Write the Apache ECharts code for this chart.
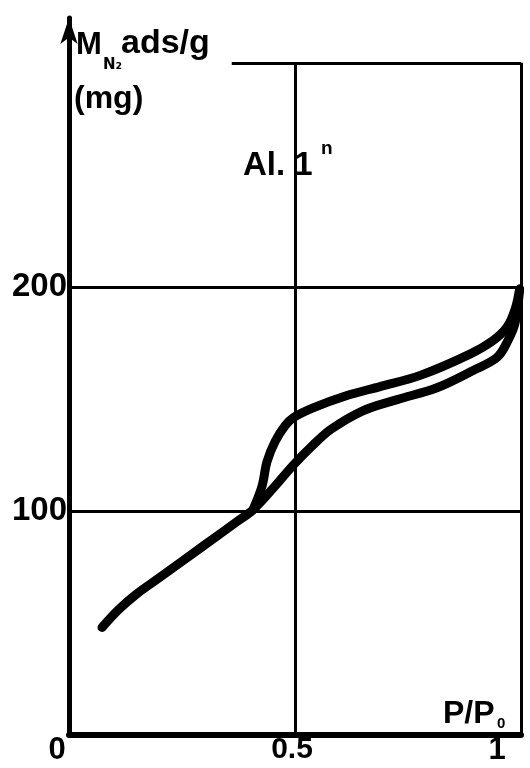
<!DOCTYPE html>
<html>
<head>
<meta charset="utf-8">
<script src="https://cdn.jsdelivr.net/npm/echarts@6/dist/echarts.min.js"></script>
<style>
html,body{margin:0;padding:0;background:#fff;}
#c{width:530px;height:768px;}
</style>
</head>
<body>
<div id="c"></div>
<script>
// ---- data ----
const xTickLabels = ['0', '0.5', '1'];
const yTickLabels = ['100', '200'];
// adsorption branch (lower), includes common low-pressure part
const adsX = [0.073, 0.11, 0.15, 0.2, 0.3, 0.37, 0.407, 0.451, 0.496, 0.54, 0.58, 0.65, 0.726, 0.814, 0.894, 0.947, 0.971, 0.987, 0.997];
const adsY = [48, 56, 63, 70.2, 84.8, 95, 100.5, 110, 120.4, 129.4, 136.5, 144.7, 149.7, 155, 162.7, 168.5, 176, 184, 199];
// desorption branch (upper)
const desX = [0.407, 0.427, 0.438, 0.456, 0.478, 0.496, 0.54, 0.615, 0.688, 0.777, 0.887, 0.938, 0.969, 0.987, 0.997];
const desY = [100.5, 111, 122, 131, 138, 141.6, 146, 151.5, 155.5, 160.5, 170, 176, 182, 190, 199];
// hand-drawn grid lines
const gridYValues = [100, 200];
const gridXValues = [0.5, 1];
const topLineY = 300;
const topLineStartX = 0.36;

const zip = (xs, ys) => xs.map((x, i) => [x, ys[i]]);
const BLACK = '#000';
const FONT = '"Liberation Sans", Arial, sans-serif';

const markData = [];
gridYValues.forEach(v => markData.push([{coord: [0, v]}, {coord: [1, v]}]));
gridXValues.forEach(v => markData.push([{coord: [v, 0]}, {coord: [v, topLineY]}]));
markData.push([{coord: [topLineStartX, topLineY]}, {coord: [1, topLineY]}]);

const chart = echarts.init(document.getElementById('c'));
chart.setOption({
  backgroundColor: '#fff',
  animation: false,
  grid: {left: 69, right: 9, top: 18, bottom: 33, containLabel: false},
  xAxis: {
    type: 'value', min: 0, max: 1, interval: 0.5,
    axisLine: {show: true, lineStyle: {color: BLACK, width: 6}},
    axisTick: {show: false},
    splitLine: {show: false},
    axisLabel: {
      margin: 0,
      formatter: function (v) {
        if (v === 0) return '{a|' + xTickLabels[0] + '}';
        if (v === 0.5) return '{b|' + xTickLabels[1] + '}';
        if (v === 1) return '{c|' + xTickLabels[2] + '}';
        return '';
      },
      rich: {
        a: {fontFamily: FONT, fontWeight: 'bold', fontSize: 31, color: BLACK, padding: [0, 24, 0, 0]},
        b: {fontFamily: FONT, fontWeight: 'bold', fontSize: 30, color: BLACK, padding: [0, 6, 0, 0]},
        c: {fontFamily: FONT, fontWeight: 'bold', fontSize: 31, color: BLACK, padding: [0, 48, 0, 0]}
      }
    }
  },
  yAxis: {
    type: 'value', min: 0, max: 320, interval: 100,
    axisLine: {show: true, symbol: ['none', 'arrow'], symbolSize: [13, 26], lineStyle: {color: BLACK, width: 5}},
    axisTick: {show: false},
    splitLine: {show: false},
    axisLabel: {
      margin: 2,
      fontFamily: FONT, fontWeight: 'bold', fontSize: 33, color: BLACK,
      formatter: function (v) {
        const s = String(v);
        return yTickLabels.indexOf(s) >= 0 ? s : '';
      }
    }
  },
  series: [
    {
      type: 'line', name: 'ads', data: zip(adsX, adsY), smooth: 0.35, showSymbol: false,
      lineStyle: {color: BLACK, width: 9, cap: 'round', join: 'round'}, z: 5,
      markLine: {
        silent: true, symbol: ['none', 'none'], label: {show: false},
        lineStyle: {color: BLACK, width: 3, type: 'solid'},
        data: markData, z: 2
      }
    },
    {
      type: 'line', name: 'des', data: zip(desX, desY), smooth: 0.35, showSymbol: false,
      lineStyle: {color: BLACK, width: 9, cap: 'round', join: 'round'}, z: 5
    }
  ],
  graphic: [
    {type: 'text', left: 76, top: 30, style: {text: 'M', font: 'bold 31px ' + FONT, fill: BLACK}},
    {type: 'text', left: 103, top: 58, style: {text: 'N₂', font: 'bold 15px "DejaVu Sans", sans-serif', fill: BLACK}},
    {type: 'text', left: 121, top: 27, style: {text: 'ads/g', font: 'bold 34px ' + FONT, fill: BLACK}},
    {type: 'text', left: 74, top: 83, style: {text: '(mg)', font: 'bold 32px ' + FONT, fill: BLACK}},
    {type: 'text', left: 243, top: 149, style: {text: 'Al. 1', font: 'bold 33px ' + FONT, fill: BLACK}},
    {type: 'text', left: 321, top: 139, style: {text: 'n', font: 'bold 19px ' + FONT, fill: BLACK}},
    {type: 'text', left: 443, top: 698, style: {text: 'P/P', font: 'bold 32px ' + FONT, fill: BLACK}},
    {type: 'text', left: 497, top: 716, style: {text: '0', font: 'bold 15px ' + FONT, fill: BLACK}}
  ]
});
</script>
</body>
</html>
